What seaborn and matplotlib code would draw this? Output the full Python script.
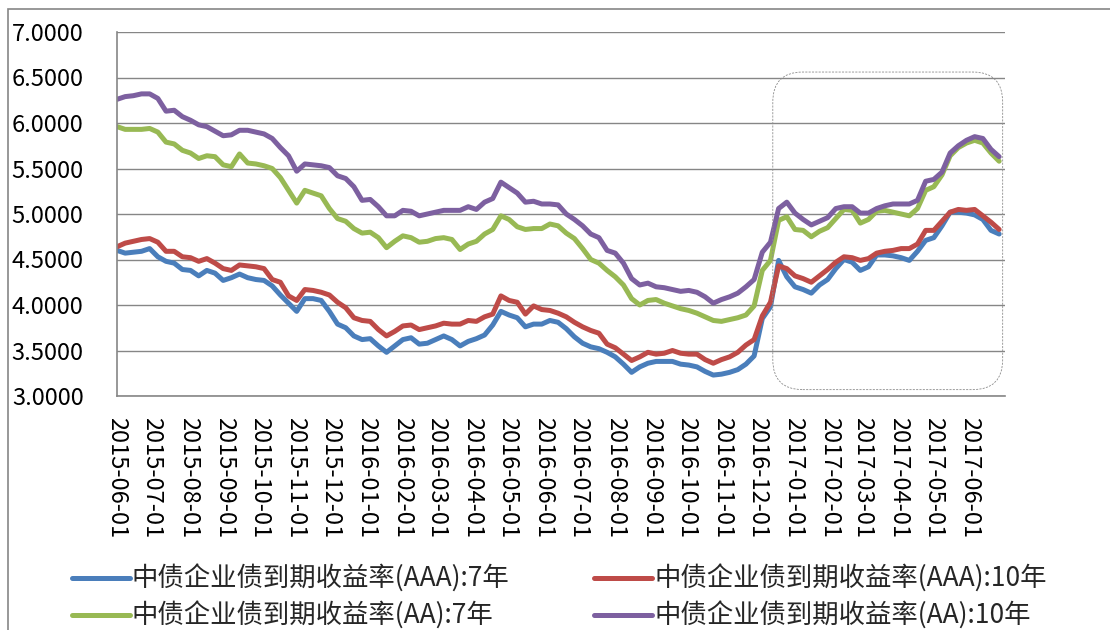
import numpy as np
import pandas as pd
import matplotlib
matplotlib.use("Agg")
import matplotlib.pyplot as plt
import matplotlib.dates as mdates
from matplotlib.patches import FancyBboxPatch, Rectangle
import seaborn as sns

# ── Data (weekly readings, 2015-06-01 .. 2017-06-26) ─────────────────────────
dates = pd.date_range("2015-06-01", periods=109, freq="7D")

aaa_7y = [
    4.60, 4.57, 4.58, 4.59, 4.62, 4.53, 4.48, 4.46, 4.39, 4.38, 4.32, 4.38, 4.35,
    4.27, 4.30, 4.34, 4.30, 4.28, 4.27, 4.21, 4.11, 4.02, 3.93, 4.07, 4.07, 4.05,
    3.93, 3.79, 3.75, 3.66, 3.62, 3.63, 3.55, 3.48, 3.55, 3.62, 3.64, 3.57,
    3.58, 3.62, 3.66, 3.62, 3.55, 3.60, 3.63, 3.67, 3.78, 3.93, 3.89, 3.86, 3.76,
    3.79, 3.79, 3.83, 3.81, 3.74, 3.65, 3.58, 3.54, 3.52, 3.48, 3.43, 3.35, 3.26,
    3.32, 3.36, 3.38, 3.38, 3.38, 3.35, 3.34, 3.32, 3.27, 3.23,
    3.24, 3.26, 3.29, 3.35, 3.44, 3.85, 3.98, 4.49, 4.31, 4.20, 4.17, 4.13, 4.22,
    4.28, 4.40, 4.50, 4.47, 4.38, 4.42, 4.55, 4.55, 4.54, 4.52, 4.49, 4.59, 4.71,
    4.74, 4.87, 5.02, 5.02, 5.01, 4.99, 4.94, 4.82, 4.78,
]
aaa_10y = [
    4.64, 4.68, 4.70, 4.72, 4.73, 4.69, 4.59, 4.59, 4.53, 4.52, 4.48, 4.51, 4.46,
    4.40, 4.38, 4.44, 4.43, 4.42, 4.40, 4.28, 4.25, 4.10, 4.05, 4.17, 4.16, 4.14,
    4.11, 4.03, 3.97, 3.86, 3.83, 3.82, 3.73, 3.66, 3.71, 3.77, 3.78, 3.73,
    3.75, 3.77, 3.80, 3.79, 3.79, 3.83, 3.82, 3.87, 3.90, 4.10, 4.05, 4.03, 3.90,
    3.99, 3.95, 3.94, 3.91, 3.87, 3.81, 3.76, 3.72, 3.69, 3.57, 3.53, 3.46, 3.39,
    3.43, 3.48, 3.46, 3.47, 3.50, 3.47, 3.46, 3.46, 3.40, 3.36,
    3.40, 3.43, 3.48, 3.56, 3.62, 3.88, 4.03, 4.43, 4.40, 4.32, 4.29, 4.25, 4.32,
    4.39, 4.47, 4.53, 4.52, 4.49, 4.51, 4.57, 4.59, 4.60, 4.62, 4.62, 4.67, 4.82,
    4.82, 4.92, 5.02, 5.05, 5.04, 5.05, 4.98, 4.91, 4.83,
]
aa_7y = [
    5.96, 5.93, 5.93, 5.93, 5.94, 5.90, 5.79, 5.77, 5.70, 5.67, 5.61, 5.64, 5.63,
    5.54, 5.52, 5.66, 5.56, 5.55, 5.53, 5.50, 5.40, 5.26, 5.12, 5.26, 5.23, 5.20,
    5.06, 4.95, 4.92, 4.84, 4.79, 4.80, 4.74, 4.63, 4.70, 4.76, 4.74, 4.69,
    4.70, 4.73, 4.74, 4.72, 4.61, 4.67, 4.70, 4.78, 4.83, 4.98, 4.94, 4.86, 4.83,
    4.84, 4.84, 4.89, 4.87, 4.79, 4.73, 4.62, 4.50, 4.46, 4.38, 4.31, 4.22, 4.07,
    4.00, 4.05, 4.06, 4.02, 3.99, 3.96, 3.94, 3.91, 3.87, 3.83,
    3.82, 3.84, 3.86, 3.89, 3.99, 4.38, 4.49, 4.93, 4.97, 4.83, 4.82, 4.75, 4.81,
    4.85, 4.95, 5.05, 5.04, 4.90, 4.94, 5.03, 5.04, 5.02, 5.00, 4.98, 5.06, 5.26,
    5.30, 5.43, 5.64, 5.73, 5.78, 5.81, 5.78, 5.67, 5.58,
]
aa_10y = [
    6.26, 6.29, 6.30, 6.32, 6.32, 6.27, 6.13, 6.14, 6.07, 6.03, 5.98, 5.96, 5.91,
    5.86, 5.87, 5.92, 5.92, 5.90, 5.88, 5.83, 5.73, 5.64, 5.47, 5.55, 5.54, 5.53,
    5.51, 5.42, 5.39, 5.30, 5.15, 5.16, 5.08, 4.98, 4.98, 5.04, 5.03, 4.98,
    5.00, 5.02, 5.04, 5.04, 5.04, 5.08, 5.05, 5.13, 5.17, 5.35, 5.29, 5.23, 5.13,
    5.14, 5.11, 5.11, 5.10, 5.00, 4.94, 4.87, 4.78, 4.74, 4.60, 4.57, 4.46, 4.29,
    4.22, 4.24, 4.20, 4.19, 4.17, 4.15, 4.16, 4.14, 4.09, 4.02,
    4.06, 4.09, 4.13, 4.20, 4.28, 4.58, 4.69, 5.06, 5.13, 5.01, 4.94, 4.88, 4.92,
    4.96, 5.06, 5.08, 5.08, 5.01, 5.01, 5.06, 5.09, 5.11, 5.11, 5.11, 5.15, 5.36,
    5.38, 5.46, 5.67, 5.75, 5.81, 5.85, 5.83, 5.71, 5.63,
]

SERIES = [
    "中债企业债到期收益率(AAA):7年",
    "中债企业债到期收益率(AAA):10年",
    "中债企业债到期收益率(AA):7年",
    "中债企业债到期收益率(AA):10年",
]
COLORS = ["#4A7EBB", "#BE4B48", "#98B954", "#7D60A0"]

df = pd.concat([
    pd.DataFrame({"date": dates, "value": vals, "series": name})
    for name, vals in zip(SERIES, [aaa_7y, aaa_10y, aa_7y, aa_10y])
])

# ── Style ─────────────────────────────────────────────────────────────────────
sns.set_style("white")
plt.rcParams["font.family"] = ["Noto Sans CJK SC", "DejaVu Sans"]
GRAY = "#868686"

W, H = 1110, 630
fig = plt.figure(figsize=(W / 100, H / 100), dpi=100)
ax = fig.add_axes([117 / W, 1 - 396 / H, (1005 - 117) / W, (396 - 32) / H])

sns.lineplot(
    data=df, x="date", y="value", hue="series",
    hue_order=SERIES, palette=dict(zip(SERIES, COLORS)),
    linewidth=3.6, ax=ax,
)

# axes
x0, x1 = pd.Timestamp("2015-06-01"), pd.Timestamp("2017-07-01")
ax.set_xlim(x0, x1)
ax.set_ylim(3.0, 7.0)
ax.set_yticks(np.arange(3.0, 7.01, 0.5))
ax.yaxis.set_major_formatter(matplotlib.ticker.FormatStrFormatter("%.4f"))
ax.grid(axis="y", color=GRAY, linewidth=1.0)
ax.grid(axis="x", visible=False)

month_ticks = pd.date_range(x0, x1, freq="MS")
ax.set_xticks(month_ticks)
ax.set_xticklabels([d.strftime("%Y-%m-%d") for d in month_ticks[:-1]] + [""],
                   rotation=-90, ha="center", va="top")

for side in ["top", "right"]:
    ax.spines[side].set_visible(False)
for side in ["left", "bottom"]:
    ax.spines[side].set_color(GRAY)
    ax.spines[side].set_linewidth(1.2)
ax.tick_params(axis="both", which="major", direction="out", length=6,
               width=1.2, color=GRAY, labelsize=17, labelcolor="black")
ax.tick_params(axis="y", pad=18)
ax.tick_params(axis="x", pad=9)
ax.set_xlabel("")
ax.set_ylabel("")

# highlight box (rounded, dashed) around 2017 H1
bx0 = mdates.date2num(pd.Timestamp("2016-12-14"))
bx1 = mdates.date2num(pd.Timestamp("2017-06-29"))
by0, by1 = 3.07, 6.56
x_per_px = (mdates.date2num(x1) - mdates.date2num(x0)) / (1005 - 117)
y_per_px = 4.0 / (396 - 32)
box = FancyBboxPatch(
    (bx0, by0), bx1 - bx0, by1 - by0,
    boxstyle="round,pad=0,rounding_size=%f" % (30 * x_per_px),
    mutation_aspect=y_per_px / x_per_px,
    fill=False, edgecolor="#8c8c8c", linewidth=0.6, linestyle=(0, (2.5, 1.5)),
    zorder=5,
)
ax.add_patch(box)

# chart-area frame
fig.patches.append(Rectangle((8 / W, -0.1), 1.2, 1 - 9 / H + 0.1,
                             transform=fig.transFigure, fill=False,
                             edgecolor=GRAY, linewidth=1.2))

# legend
handles, labels = ax.get_legend_handles_labels()
ax.get_legend().remove()
order = [0, 2, 1, 3]
fig.legend([handles[i] for i in order], [labels[i] for i in order],
           ncol=2, loc="upper left", bbox_to_anchor=(48 / W, 1 - 541 / H),
           frameon=False, fontsize=19, handlelength=2.2, handletextpad=0.08,
           columnspacing=3.2, labelspacing=0.35, borderpad=0.4)

fig.savefig("out.png", dpi=100)
